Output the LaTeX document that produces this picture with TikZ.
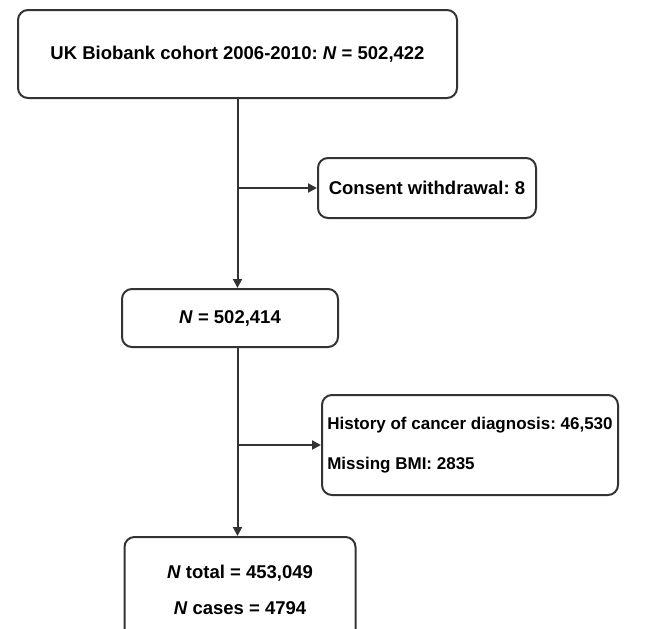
\documentclass[tikz,border=0pt]{standalone}
\usepackage{fontspec}
\setmainfont{Liberation Sans}
\usetikzlibrary{arrows.meta}
\definecolor{linegray}{HTML}{333333}
\begin{document}
\frenchspacing
\begin{tikzpicture}[x=1pt,y=-1pt,
  box/.style={draw=linegray,line width=2pt,rounded corners=10pt,font=\fontsize{18.5}{22}\selectfont\bfseries,inner sep=0pt},
  flow/.style={draw=linegray,line width=2pt,-{Triangle[length=9pt,width=9pt]}}]
\useasboundingbox (0,0) rectangle (657,629);
\node[box,minimum width=439,minimum height=88] (cohort) at (237.5,54) {UK Biobank cohort 2006-2010: \textit{N} = 502,422};
\node[box,minimum width=218,minimum height=60] (consent) at (427,188) {Consent withdrawal: 8};
\node[box,minimum width=216,minimum height=58] (n2) at (230,318) {\textit{N} = 502,414};
\node[box,minimum width=296,minimum height=100,align=left,font=\fontsize{17}{21}\selectfont\bfseries] (excl) at (470,445) {History of cancer diagnosis: 46,530\\[19pt]Missing BMI: 2835};
\node[box,minimum width=231,minimum height=106,align=center] (final) at (240,590) {\textit{N} total = 453,049\\[14pt]\textit{N} cases = 4794};
\coordinate (j1) at (cohort.south |- consent.west);
\coordinate (j2) at (cohort.south |- excl.west);
\draw[flow] (cohort.south) -- (cohort.south |- n2.north);
\draw[flow] (j1) -- (consent.west);
\draw[flow] (cohort.south |- n2.south) -- (cohort.south |- final.north);
\draw[flow] (j2) -- (excl.west);
\end{tikzpicture}
\end{document}
